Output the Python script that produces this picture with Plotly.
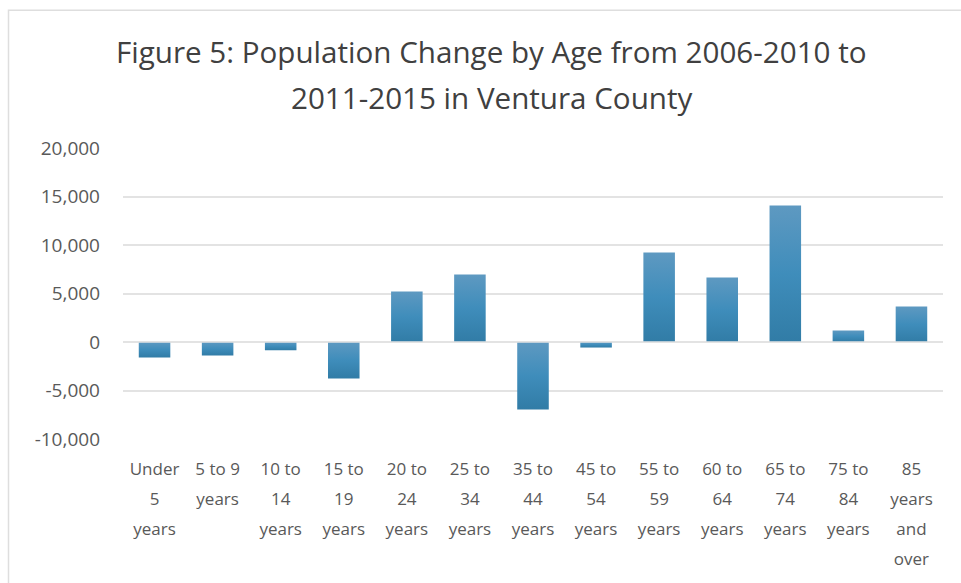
import plotly.graph_objects as go

categories = ["Under 5 years", "5 to 9 years", "10 to 14 years", "15 to 19 years",
              "20 to 24 years", "25 to 34 years", "35 to 44 years", "45 to 54 years",
              "55 to 59 years", "60 to 64 years", "65 to 74 years", "75 to 84 years",
              "85 years and over"]
tick_labels = ["Under<br>5<br>years", "5 to 9<br>years", "10 to<br>14<br>years", "15 to<br>19<br>years",
               "20 to<br>24<br>years", "25 to<br>34<br>years", "35 to<br>44<br>years", "45 to<br>54<br>years",
               "55 to<br>59<br>years", "60 to<br>64<br>years", "65 to<br>74<br>years", "75 to<br>84<br>years",
               "85<br>years<br>and<br>over"]
change = [-1600, -1400, -850, -3750, 5200, 6950, -6950, -570, 9230, 6650, 14070, 1190, 3660]
title_lines = ["Figure 5: Population Change by Age from 2006-2010 to", "2011-2015 in Ventura County"]
y_ticks = [-10000, -5000, 0, 5000, 10000, 15000, 20000]
y_tick_text = ["-10,000", "-5,000", "0", "5,000", "10,000", "15,000", "20,000"]

W, H = 961, 583
L, R, T, B = 123, 18, 148, 143.5
pw, ph = W - L - R, H - T - B
HALF = 0.25  # half bar width in category units

def px_x(x):
    return (x - L) / pw

def px_y(y):
    return 1 + (T - y) / ph

span = '<span style="font-size:17px">{}</span>'
fmt_ticks = ["<br>".join(span.format(p) for p in t.split("<br>")) for t in tick_labels]

grad = [[0, "#317ca6"], [0.5, "#3f8dbb"], [1, "#5e99c1"]]

fig = go.Figure()
for i, (cat, v) in enumerate(zip(categories, change)):
    fig.add_trace(go.Scatter(
        x=[i - HALF, i - HALF, i + HALF, i + HALF, i - HALF],
        y=[0, v, v, 0, 0],
        mode="lines", line=dict(width=0, color="#3f8dbb"),
        fill="toself",
        fillgradient=dict(type="vertical", colorscale=grad),
        name=cat, hoveron="fills",
    ))

fig.update_layout(
    width=W, height=H,
    margin=dict(l=L, r=R, t=T, b=B),
    paper_bgcolor="white", plot_bgcolor="white",
    showlegend=False,
    font=dict(family="Open Sans", color="#595959"),
    xaxis=dict(
        range=[-0.5, len(categories) - 0.5],
        tickmode="array", tickvals=list(range(len(categories))), ticktext=fmt_ticks,
        tickfont=dict(size=23, family="Open Sans", color="#595959"),
        showgrid=False, showline=False, ticks="", zeroline=False,
        ticklabelstandoff=12,
    ),
    yaxis=dict(
        range=[-10000, 20000], tickmode="array", tickvals=y_ticks, ticktext=y_tick_text,
        tickfont=dict(size=19, family="Open Sans", color="#595959"),
        showgrid=True, gridcolor="#e3e3e3", gridwidth=1.5,
        zeroline=False,
        showline=False, ticks="", ticklabelstandoff=22,
    ),
    shapes=[dict(type="rect", xref="paper", yref="paper",
                 x0=px_x(8.5), x1=px_x(990), y0=px_y(620), y1=px_y(10),
                 line=dict(color="#dedede", width=1.5), fillcolor="rgba(0,0,0,0)", layer="below"),
            dict(type="line", xref="paper", yref="y", x0=0, x1=1, y0=0, y1=0,
                 line=dict(color="#e3e3e3", width=1.5), layer="above")],
)

for i, line in enumerate(title_lines):
    fig.add_annotation(
        text=line, xref="paper", yref="paper",
        x=px_x(491.5), y=px_y(51 + 46.5 * i),
        xanchor="center", yanchor="middle", showarrow=False,
        font=dict(size=29.6, family="Open Sans", color="#404040"),
    )

fig.write_html("out.html", config={"displayModeBar": False},
               post_script="document.body.style.margin='0';")
